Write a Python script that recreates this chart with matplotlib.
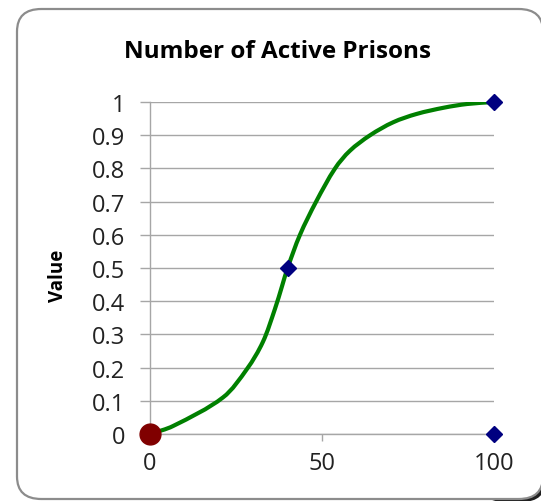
import matplotlib.pyplot as plt
import numpy as np
from matplotlib.patches import FancyBboxPatch, Path, PathPatch

# curve
curve_x = [0, 6.7, 21.2, 28.2, 32.8, 36.3, 38.4, 40, 43.6, 48.3, 53.8, 58.1, 64.0, 70.7, 77.5, 85.5, 92.2, 100]
curve_y = [0, 0.024, 0.11, 0.196, 0.277, 0.376, 0.446, 0.5, 0.60, 0.70, 0.80, 0.853, 0.90, 0.939, 0.964, 0.983, 0.994, 1]

# marker points
start_x, start_y = [0], [0]
diamond_x = [40, 100, 100]
diamond_y = [0.5, 1, 0]

x_ticks = [0, 50, 100]
y_ticks = [0, 0.1, 0.2, 0.3, 0.4, 0.5, 0.6, 0.7, 0.8, 0.9, 1]
y_labels = ['0', '0.1', '0.2', '0.3', '0.4', '0.5', '0.6', '0.7', '0.8', '0.9', '1']


def smooth_path(xs, ys, yscale=96.5):
    # smoothed line as cubic bezier segments, chord-length catmull-rom tangents
    pts = np.column_stack([xs, np.asarray(ys) * yscale])
    n = len(pts)
    t = np.concatenate([[0], np.cumsum(np.hypot(*np.diff(pts, axis=0).T))])
    m = np.zeros_like(pts)
    m[0] = (pts[1] - pts[0]) / (t[1] - t[0])
    m[-1] = (pts[-1] - pts[-2]) / (t[-1] - t[-2])
    for i in range(1, n - 1):
        m[i] = (pts[i + 1] - pts[i - 1]) / (t[i + 1] - t[i - 1])
    verts = [pts[0]]
    codes = [Path.MOVETO]
    for i in range(n - 1):
        h = t[i + 1] - t[i]
        verts += [pts[i] + m[i] * h / 3, pts[i + 1] - m[i + 1] * h / 3, pts[i + 1]]
        codes += [Path.CURVE4] * 3
    verts = np.array(verts)
    verts[:, 1] /= yscale
    return Path(verts, codes)


plt.rcParams['font.family'] = ['Open Sans', 'DejaVu Sans']

fig = plt.figure(figsize=(5.41, 5.02), dpi=100)

# rounded chart border, dark shadow only at the bottom right corner
W, H = 541, 502
shadow = FancyBboxPatch((480 / W, 1 - 503 / H), (546 - 480) / W, (503 - 300) / H,
                        boxstyle='round,pad=0,rounding_size=0.045',
                        transform=fig.transFigure, fc='#202020', ec='none', zorder=0)
border = FancyBboxPatch((17 / W, 1 - 500 / H), (543 - 17) / W, (500 - 10) / H,
                        boxstyle='round,pad=0,rounding_size=0.045',
                        transform=fig.transFigure, fc='white', ec='#8c8c8c', lw=1.6, zorder=1)
fig.patches += [shadow, border]

ax = fig.add_axes([150 / W, 1 - 435 / H, (494 - 150) / W, (435 - 103) / H])
ax.set_zorder(2)
ax.patch.set_visible(False)

ax.add_patch(PathPatch(smooth_path(curve_x, curve_y), fc='none', ec='#008000', lw=3, zorder=3,
                       capstyle='round'))
ax.plot(diamond_x, diamond_y, 'D', color='#000080', ms=8, ls='none', clip_on=False, zorder=4)
ax.plot(start_x, start_y, 'o', color='#800000', ms=15, ls='none', clip_on=False, zorder=5)

ax.set_xlim(0, 100)
ax.set_ylim(0, 1)
ax.set_xticks(x_ticks)
ax.set_yticks(y_ticks)
ax.set_yticklabels(y_labels)
ax.yaxis.grid(True, color='#a6a6a6', lw=1)
ax.set_axisbelow(True)
for s in ['top', 'right']:
    ax.spines[s].set_visible(False)
for s in ['left', 'bottom']:
    ax.spines[s].set_color('#a6a6a6')
    ax.spines[s].set_linewidth(1)
ax.tick_params(colors='#a6a6a6', labelcolor='#222222', labelsize=17, width=1)
ax.tick_params(axis='x', length=5, pad=7)
ax.tick_params(axis='y', length=7, pad=11)

ax.set_ylabel('Value', fontsize=13.5, fontweight='bold')
ax.yaxis.set_label_coords((68 - 150) / 344, (435 - 276) / 332)
fig.text(278 / W, 1 - 52 / H, 'Number of Active Prisons', ha='center', va='center',
         fontsize=17.5, fontweight='bold', zorder=3)

fig.savefig('out.png', dpi=100)
